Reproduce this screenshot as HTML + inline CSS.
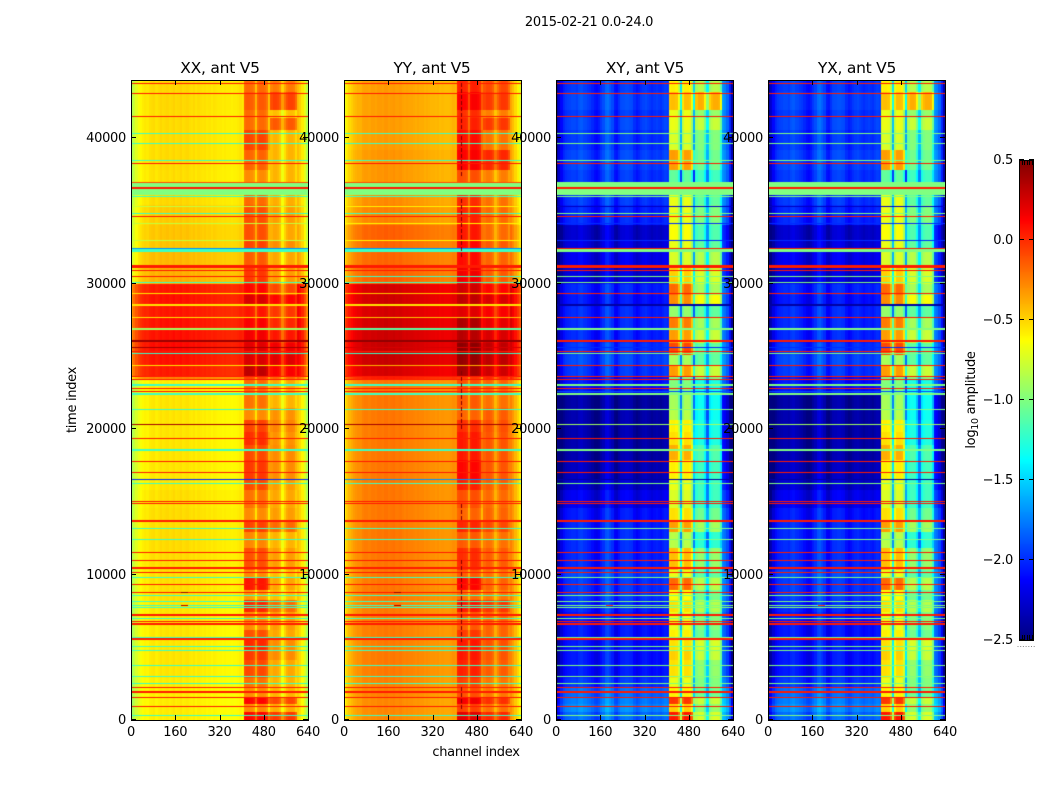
<!DOCTYPE html>
<html lang="en">
<head>
<meta charset="utf-8">
<title>2015-02-21 0.0-24.0</title>
<style>
  html, body { margin: 0; padding: 0; background: #fff; }
  #figure { position: relative; width: 1050px; height: 800px; overflow: hidden; background: #fff;
            font-family: "DejaVu Sans", "Liberation Sans", sans-serif; }
  #figure canvas { position: absolute; display: block; }
  #overlay { position: absolute; left: 0; top: 0; }
  #overlay text { fill: #000; font-family: "DejaVu Sans", "Liberation Sans", sans-serif; font-size: 13px; letter-spacing: -0.3px; }
  #overlay .title { font-size: 15.5px; letter-spacing: -0.25px; }
</style>
</head>
<body>
<div id="figure">
  <svg id="overlay" width="1050" height="800" viewBox="0 0 1050 800">
    <text x="589" y="26" text-anchor="middle">2015-02-21 0.0-24.0</text>
    <text class="title" x="220" y="73" text-anchor="middle">XX, ant V5</text>
    <text class="title" x="432" y="73" text-anchor="middle">YY, ant V5</text>
    <text class="title" x="645" y="73" text-anchor="middle">XY, ant V5</text>
    <text class="title" x="857" y="73" text-anchor="middle">YX, ant V5</text>
    <text x="0" y="0" transform="translate(76 400) rotate(-90)" text-anchor="middle">time index</text>
    <text x="476" y="756" text-anchor="middle">channel index</text>
    <text x="0" y="0" transform="translate(975 400) rotate(-90)" text-anchor="middle">log<tspan font-size="9.5" dy="3">10</tspan><tspan dy="-3"> amplitude</tspan></text>
  </svg>
</div>
<script>
/* ---------- axis tick values ---------- */
const channelTicks = [0, 160, 320, 480, 640];
const timeTicks = [0, 10000, 20000, 30000, 40000];
const colorTicks = [-2.5, -2.0, -1.5, -1.0, -0.5, 0.0, 0.5];
const colorTickLabels = ['\u22122.5', '\u22122.0', '\u22121.5', '\u22121.0', '\u22120.5', '0.0', '0.5'];

/* ---------- time bands: first time index of each band ---------- */
const bandStart = [0,550,1100,1513,2200,2888,4125,4813,5500,6188,
  7425,8250,8938,9763,10313,11825,12925,13613,14575,15813,
  16500,17875,18906,19800,20625,21450,22344,23375,23581,24406,
  25094,25919,26813,27638,28463,29219,29975,31281,32175,33000,
  34031,35406,36094,36919,37813,39188,40563,41388,41938,43175];

/* ---------- log10 amplitude per band: quiet channels, RFI blocks A, RFI blocks B ---------- */
const xxQuiet = [-.6,-.6,-.6,-.6,-.6,-.58,-.58,-.58,-.58,-.58,
  -.58,-.56,-.56,-.56,-.55,-.55,-.55,-.55,-.56,-.58,
  -.58,-.58,-.58,-.58,-.58,-.58,-.6,-.3,.02,.05,
  .07,.05,.05,.03,.05,.03,-.42,-.45,-.48,-.48,
  -.5,-.54,-1,-.56,-.55,-.55,-.55,-.55,-.54,-.54];
const xxBlockA = [.1,-.3,.1,-.3,-.22,-.1,-.05,0,-.12,-.3,
  0,-.35,.05,-.3,-.12,-.28,-.08,-.3,-.22,-.1,
  -.05,-.1,-.02,-.08,-.3,-.22,-.2,-.1,.3,.22,
  .2,.15,.12,.05,.22,.1,-.05,-.15,-.08,-.12,
  -.12,-.2,-1,-.3,-.18,-.08,-.2,-.2,-.15,-.2];
const xxBlockB = [-.05,-.4,-.1,-.42,-.42,-.38,-.3,-.3,-.38,-.35,
  -.2,-.45,-.38,-.45,-.35,-.42,-.2,-.35,-.38,-.35,
  -.3,-.3,-.32,-.28,-.32,-.42,-.38,-.2,.12,.2,
  .15,.05,0,-.05,.1,-.1,-.35,-.38,-.3,-.38,
  -.35,-.4,-1,-.42,-.42,-.42,-.15,-.45,-.08,-.25];

const yyQuiet = [-.32,-.32,-.32,-.3,-.3,-.28,-.28,-.28,-.28,-.28,
  -.28,-.27,-.27,-.27,-.27,-.27,-.27,-.27,-.27,-.27,
  -.27,-.27,-.27,-.27,-.27,-.27,-.27,0,.2,.24,
  .24,.22,.22,.2,.22,.2,-.2,-.22,-.22,-.2,
  -.3,-.33,-1,-.36,-.36,-.38,-.38,-.38,-.38,-.38];
const yyBlockA = [.2,-.08,.15,-.12,-.08,.02,.05,.05,-.05,-.15,
  .05,-.2,.1,-.15,-.02,-.15,0,-.18,-.12,.02,
  .1,.04,.04,-.02,-.18,-.15,-.12,-.05,.38,.42,
  .45,.32,.35,.2,.3,.25,.15,.08,.1,.05,
  .02,-.02,-1,-.12,.12,.08,.02,-.02,.12,.02];
const yyBlockB = [0,-.22,-.03,-.24,-.24,-.16,-.14,-.12,-.18,-.18,
  -.05,-.24,-.18,-.22,-.16,-.22,-.1,-.18,-.2,-.16,
  -.14,-.14,-.14,-.12,-.16,-.22,-.18,0,.25,.3,
  .3,.22,.18,.12,.22,.1,-.15,-.18,-.15,-.2,
  -.2,-.22,-1,-.26,0,-.22,-.05,-.26,-.05,-.1];

const xyQuiet = [-1.85,-1.75,-1.8,-1.85,-2,-2.1,-2.1,-2.1,-2.1,-2.1,
  -2.05,-2,-2,-1.95,-2.05,-2.05,-2.05,-2.1,-2.2,-2.3,
  -2.35,-2.4,-2.4,-2.4,-2.4,-2.42,-2.1,-2.1,-2,-1.95,
  -2,-2.05,-2.05,-2.05,-2.1,-2.05,-2.25,-2.2,-2.25,-2.3,
  -2.05,-2,-1,-2,-1.96,-2,-1.96,-2,-1.96,-2];
const xyBlockA = [.05,-.5,-.05,-.6,-.7,-.55,-.5,-.55,-.6,-.7,
  -.55,-.65,-.2,-.7,-.45,-.85,-.35,-.55,-.75,-.7,
  -.6,-.4,-.55,-.6,-.85,-.9,-1,-1,-.35,-.9,
  -.1,-.35,-.25,-.95,-.3,-.2,-.5,-.75,-.7,-.65,
  -.7,-.7,-1,-1.1,-.35,-.75,-.7,-.7,-.45,-.6];
const xyBlockB = [-.75,-.95,-.8,-1.05,-1,-.95,-.8,-.75,-1.05,-1,
  -.85,-1.05,-.85,-1.1,-.95,-1.25,-.9,-1.05,-1.2,-1.2,
  -1.2,-1.15,-1.3,-1.3,-1.35,-1.35,-1.3,-1,-.8,-1.1,
  -1.1,-.8,-.9,-1.1,-.65,-.9,-.75,-.85,-1.1,-1.15,
  -1,-1.1,-1,-1.2,-1.05,-1,-.8,-.95,-.4,-.85];

/* ---------- spectral shape: offset per 8-channel bin (80 bins) ---------- */
const xxChannelOffset = [-.32,-.24,-.16,-.1,-.06,-.03,-.01,-.02,
  .01,.02,.03,0,.02,.04,.02,.03,
  .04,.02,.03,.05,.02,.03,.05,.02,
  .03,.04,.02,.01,.03,0,.02,.01,
  0,.01,-.01,0,-.02,0,-.01,-.02,
  -.02,-.03,-.02,-.03,-.03,-.04,-.03,-.03,-.02,0,
  -.02,0,.02,.02,0,-.04,-.25,-.02,.02,.02,0,-.06,-.28,
  -.02,.02,.02,0,-.06,-.25,-.12,-.02,.02,.02,0,-.1,
  .12,.06,-.02,-.14,-.3];
const yyChannelOffset = [-.3,-.2,-.14,-.1,-.06,-.04,-.02,-.02,
  .02,.03,.03,.02,.04,.04,.03,.05,
  .05,.04,.06,.06,.04,.05,.06,.04,
  .04,.05,.03,.02,.03,.02,.02,.01,
  0,.01,0,0,-.02,-.01,-.02,-.03,
  -.03,-.04,-.03,-.05,-.04,-.05,-.05,-.05,-.04,-.02,
  -.03,0,.02,.02,0,-.03,-.22,0,.02,.02,0,-.05,-.25,
  -.02,.02,.02,0,-.05,-.2,-.1,-.02,.02,.02,0,-.1,
  .02,-.05,-.14,-.22,-.32];
const xyChannelOffset = [-.45,-.3,-.15,-.05,0,.02,.03,.05,
  .05,.03,.08,.1,.06,.05,.02,0,
  -.05,-.1,-.12,-.08,0,.06,.16,.18,
  .12,.05,-.08,-.1,-.02,.05,.06,.08,
  .08,.06,.05,-.03,-.08,-.05,0,.03,
  .05,.02,0,-.03,0,.02,0,-.02,.02,.05,
  .03,0,.02,.02,0,-.2,-.85,-.1,.02,.02,0,-.2,-.9,
  -.05,.02,.02,0,-.2,-.55,-.1,-.02,.02,.02,0,-.25,
  .3,.25,.15,-.05,-.4];

/* ---------- flagged rows: whole-row values that overwrite the band ---------- */
const flagTime = [275,873,1492,1836,1946,2221,2454,2977,3692,4723,
  4998,5500,5617,6531,6621,6738,6923,7150,7679,7817,
  8092,8546,8711,9261,9742,10127,10381,10911,11461,12354,
  13110,13612,13702,14829,15008,16204,16479,16961,17717,18494,
  19298,20261,21292,22364,22550,22736,22963,23375,23602,24358,
  25163,25278,25554,25967,26792,27617,28463,29268,30064,30436,
  30848,31075,31233,32196,32402,32931,34080,34581,34768,35269,
  35956,36094,36486,36898,38204,38411,39580,40268,41436,43018,
  43725];
const flagSpan = [69,69,69,69,69,69,69,69,69,69,
  69,137,69,69,69,69,69,137,69,69,
  69,69,69,69,69,69,137,69,69,69,
  69,69,69,69,69,69,69,69,69,137,
  69,69,69,137,69,69,137,69,69,69,
  69,69,69,137,137,69,137,69,69,69,
  69,137,69,206,69,69,69,69,69,69,
  69,825,137,69,69,69,69,69,69,69,
  69];
const flagXX = [-1.2,.05,.05,.05,.05,.05,-1.2,-1.2,-1.2,-1.2,
  -1.2,.05,-1.2,.05,.05,.05,-1.2,.05,-1.2,-1.2,
  -1.2,-1.2,.05,.05,-1.2,.05,.05,.05,.05,-1.2,
  -1.2,.05,.05,.05,.05,-1.2,-2,.05,.05,-1.2,
  .05,.4,-1.2,-1.2,.05,.05,-1.2,.05,.05,-.55,
  -1.2,.05,.4,.42,-.9,-.55,-.55,-.55,-1.2,.05,
  .05,.05,.05,-1.2,-1.7,-.8,-.8,.05,-1.2,-.8,
  -1.2,-1,.05,-.1,.05,-1.2,-1.2,-1.2,.05,.05,
  .05];
const flagYY = [-1.2,.05,.05,.05,.05,.05,-1.2,-1.2,-1.2,-1.2,
  -1.2,.05,-1.2,.05,.05,.05,-1.2,.05,-1.2,-1.2,
  -1.2,-1.2,.05,.05,-1.2,.05,.05,.05,.05,-1.2,
  -1.2,.05,.05,.05,.05,-1.2,-1.7,.05,.05,-1.2,
  .05,.4,-1.2,-1.2,.05,.05,-1.2,.05,.05,-.4,
  -1.2,.05,.24,.45,-1.1,-.45,-.55,-.45,-1.2,-1.2,
  .05,.05,.05,-1.2,-1.7,-.6,-.6,.05,-1.2,-.6,
  -1.2,-1,.05,-.1,.05,-1.2,-1.2,-1.2,.05,.05,
  .05];
const flagXY = [-1,.05,.05,.05,.05,.05,-1,-1,-1,-1,
  -1,.05,-1,.05,.05,.05,-1,.05,-1,-1,
  -1,-1,.05,.05,-1,.05,.05,.05,.05,-1,
  -1,.05,.05,.05,.05,-1,-2.4,.05,.05,-1,
  .05,-.9,-1,-1,-1.9,.05,-1,.05,.05,.05,
  -1,.05,-2,.05,-1,.05,-2.4,.05,-1,-1,
  .05,.05,.05,-1,.05,-2,-2,.05,-1,-2.3,
  -1,-1,.05,-1,.05,-1,-1,-1,.05,.05,
  .05];

/* ---------- dead channel in YY: dashed dropout ranges (time index) ---------- */
const deadChannel = 424;
const deadStart = [894, 5500, 13750, 20100, 32000, 37300, 40600];
const deadEnd = [2275, 11000, 14850, 24000, 35800, 40150, 43800];

/* ---------- isolated dropouts around channel 190 ---------- */
const spotTime = [7920, 8790];
const spotChannel = [192, 192];
const spotXX = [.42, .42];
const spotYY = [.42, .42];
const spotXY = [-.1, -.1];

/* ---------- panel list ---------- */
const panelKeys = ['xx', 'yy', 'xy', 'yx'];
const panelLeft = [131, 344, 556, 768];
const panelQuiet = [xxQuiet, yyQuiet, xyQuiet, xyQuiet];
const panelBlockA = [xxBlockA, yyBlockA, xyBlockA, xyBlockA];
const panelBlockB = [xxBlockB, yyBlockB, xyBlockB, xyBlockB];
const panelOffset = [xxChannelOffset, yyChannelOffset, xyChannelOffset, xyChannelOffset];
const panelFlags = [flagXX, flagYY, flagXY, flagXY];
const panelSpots = [spotXX, spotYY, spotXY, spotXY];

/* ---------- scales ---------- */
const PLOT_TOP = 80, PLOT_H = 640, PLOT_W = 177;
const TIME_MAX = 44000, CHAN_MAX = 640, BIN = 8;
const CBAR_X = 1019, CBAR_W = 15, CBAR_TOP = 160, CBAR_H = 480;
const V_MIN = -2.5, V_MAX = 0.5;

function xScale(channel) { return channel / CHAN_MAX * PLOT_W; }
function yScale(time) { return PLOT_H - time / TIME_MAX * PLOT_H; }
function cbarY(v) { return CBAR_TOP + CBAR_H - (v - V_MIN) / (V_MAX - V_MIN) * CBAR_H; }

function clip01(a) { return Math.max(0, Math.min(1, a)); }
function jet(v) {
  const n = clip01((v - V_MIN) / (V_MAX - V_MIN));
  const r = clip01(1.5 - Math.abs(4 * n - 3));
  const g = clip01(1.5 - Math.abs(4 * n - 2));
  const b = clip01(1.5 - Math.abs(4 * n - 1));
  return 'rgb(' + Math.round(r * 255) + ',' + Math.round(g * 255) + ',' + Math.round(b * 255) + ')';
}

const figure = document.getElementById('figure');
const overlay = document.getElementById('overlay');
const SVG_NS = 'http://www.w3.org/2000/svg';

function svgEl(tag, attrs) {
  const el = document.createElementNS(SVG_NS, tag);
  for (const k in attrs) el.setAttribute(k, attrs[k]);
  return el;
}

function cellValue(p, band, bin) {
  const channel = bin * BIN;
  let level = panelQuiet[p][band];
  if (channel >= 408 && channel < 504) level = panelBlockA[p][band];
  else if (channel >= 504 && channel < 600) level = panelBlockB[p][band];
  return level + panelOffset[p][bin];
}

function drawPanel(p) {
  const canvas = document.createElement('canvas');
  
  
  canvas.width = PLOT_W;
  canvas.height = PLOT_H;
  canvas.style.left = panelLeft[p] + 'px';
  canvas.style.top = PLOT_TOP + 'px';
  figure.insertBefore(canvas, overlay);
  const ctx = canvas.getContext('2d');

  for (let b = 0; b < bandStart.length; b++) {
    const tEnd = b + 1 < bandStart.length ? bandStart[b + 1] : TIME_MAX;
    const y0 = Math.round(yScale(tEnd));
    const y1 = Math.round(yScale(bandStart[b]));
    for (let bin = 0; bin < CHAN_MAX / BIN; bin++) {
      const x0 = Math.round(xScale(bin * BIN));
      const x1 = Math.round(xScale((bin + 1) * BIN));
      ctx.fillStyle = jet(cellValue(p, b, bin));
      ctx.fillRect(x0, y0, x1 - x0, y1 - y0);
    }
  }

  const flags = panelFlags[p];
  for (let i = 0; i < flagTime.length; i++) {
    const y0 = Math.round(yScale(flagTime[i] + flagSpan[i]));
    const y1 = Math.round(yScale(flagTime[i]));
    ctx.fillStyle = jet(flags[i]);
    ctx.fillRect(0, y0, PLOT_W, Math.max(1, y1 - y0));
  }

  const spots = panelSpots[p];
  for (let i = 0; i < spotTime.length; i++) {
    ctx.fillStyle = jet(spots[i]);
    ctx.fillRect(Math.round(xScale(spotChannel[i] - 12)), Math.round(yScale(spotTime[i])), Math.round(xScale(24)), 1);
  }

  if (panelKeys[p] === 'yy') {
    ctx.fillStyle = jet(0.48);
    const dx = Math.round(xScale(deadChannel));
    for (let i = 0; i < deadStart.length; i++) {
      for (let y = yScale(deadEnd[i]); y < yScale(deadStart[i]); y += 6) {
        ctx.fillRect(dx, Math.round(y), 1, 4);
      }
    }
  }
}

function drawAxes(p) {
  const left = panelLeft[p];
  const group = svgEl('g', {});
  
  

  const frame = svgEl('rect', { x: left + 0.5, y: PLOT_TOP + 0.5, width: PLOT_W, height: PLOT_H, fill: 'none', stroke: '#000', 'stroke-width': 1 });
  
  
  group.appendChild(frame);

  channelTicks.forEach(function (tick) {
    const x = Math.round(left + xScale(tick)) + 0.5;
    const top = svgEl('line', { x1: x, x2: x, y1: PLOT_TOP, y2: PLOT_TOP + 5, stroke: '#000' });
    
    
    group.appendChild(top);
    const bottom = svgEl('line', { x1: x, x2: x, y1: PLOT_TOP + PLOT_H - 5, y2: PLOT_TOP + PLOT_H, stroke: '#000' });
    
    
    group.appendChild(bottom);
    const label = svgEl('text', { x: left + xScale(tick), y: 736, 'text-anchor': 'middle' });
    
    
    label.textContent = String(tick);
    group.appendChild(label);
  });

  timeTicks.forEach(function (tick) {
    const y = Math.round(PLOT_TOP + yScale(tick)) - 0.5;
    const leftTick = svgEl('line', { x1: left, x2: left + 5, y1: y, y2: y, stroke: '#000' });
    
    
    group.appendChild(leftTick);
    const rightTick = svgEl('line', { x1: left + PLOT_W - 5, x2: left + PLOT_W, y1: y, y2: y, stroke: '#000' });
    
    
    group.appendChild(rightTick);
    const label = svgEl('text', { x: left - 5, y: y + 4.5, 'text-anchor': 'end' });
    
    
    label.textContent = String(tick);
    group.appendChild(label);
  });
  overlay.appendChild(group);
}

function drawColorbar() {
  const canvas = document.createElement('canvas');
  
  
  canvas.width = CBAR_W;
  canvas.height = CBAR_H;
  canvas.style.left = CBAR_X + 'px';
  canvas.style.top = CBAR_TOP + 'px';
  figure.insertBefore(canvas, overlay);
  const ctx = canvas.getContext('2d');
  for (let y = 0; y < CBAR_H; y++) {
    ctx.fillStyle = jet(V_MAX - (y + 0.5) / CBAR_H * (V_MAX - V_MIN));
    ctx.fillRect(0, y, CBAR_W, 1);
  }

  const group = svgEl('g', {});
  
  
  const frame = svgEl('rect', { x: CBAR_X + 0.5, y: CBAR_TOP + 0.5, width: CBAR_W - 1, height: CBAR_H, fill: 'none', stroke: '#000' });
  
  
  group.appendChild(frame);

  colorTicks.forEach(function (tick, i) {
    const y = Math.round(cbarY(tick)) - 0.5;
    const l = svgEl('line', { x1: CBAR_X, x2: CBAR_X + 5, y1: y, y2: y, stroke: '#000' });
    
    
    group.appendChild(l);
    const r = svgEl('line', { x1: CBAR_X + CBAR_W - 5, x2: CBAR_X + CBAR_W, y1: y, y2: y, stroke: '#000' });
    
    
    group.appendChild(r);
    const label = svgEl('text', { x: CBAR_X - 6, y: y + 4.5, 'text-anchor': 'end' });
    
    
    label.textContent = colorTickLabels[i];
    group.appendChild(label);
  });

  for (let i = 1; i <= 5; i++) {
    const x = CBAR_X + Math.round(i * CBAR_W / 6) + 0.5;
    const t = svgEl('line', { x1: x, x2: x, y1: CBAR_TOP, y2: CBAR_TOP + 5, stroke: '#000' });
    
    
    group.appendChild(t);
    const b = svgEl('line', { x1: x, x2: x, y1: CBAR_TOP + CBAR_H - 5, y2: CBAR_TOP + CBAR_H, stroke: '#000' });
    
    
    group.appendChild(b);
  }
  for (let i = 0; i < 7; i++) {
    const d = svgEl('rect', { x: CBAR_X - 1.5 + i * 2.7, y: 646, width: 1, height: 1, fill: '#888' });
    
    
    group.appendChild(d);
  }
  overlay.appendChild(group);
}

panelKeys.forEach(function (key, p) { drawPanel(p); });
panelKeys.forEach(function (key, p) { drawAxes(p); });
drawColorbar();
</script>
</body>
</html>
